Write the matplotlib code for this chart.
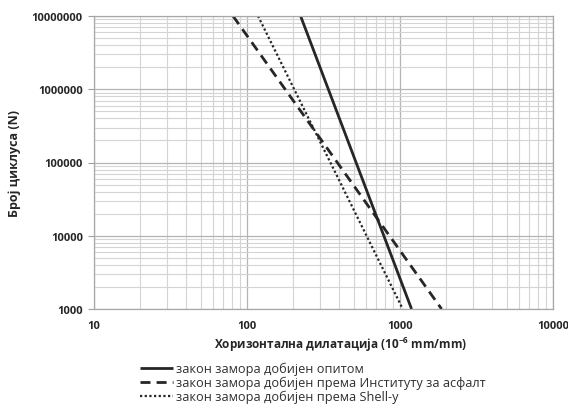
import matplotlib
matplotlib.use("Agg")
import matplotlib.pyplot as plt

plt.rcParams['font.family'] = ['Open Sans', 'DejaVu Sans']
plt.rcParams['mathtext.fontset'] = 'custom'
plt.rcParams['mathtext.rm'] = 'Open Sans'
plt.rcParams['mathtext.bf'] = 'Open Sans:bold'

# Fatigue laws: horizontal strain (10^-6 mm/mm) vs. number of cycles N
strain_test = [224, 1190]
cycles_test = [1e7, 1e3]

strain_ai = [81, 1870]
cycles_ai = [1e7, 1e3]

strain_shell = [118, 1042]
cycles_shell = [1e7, 1e3]

labels = [
    "закон замора добијен опитом",
    "закон замора добијен према Институту за асфалт",
    "закон замора добијен према Shell-у",
]

x_ticks = [10, 100, 1000, 10000]
y_ticks = [1000, 10000, 100000, 1000000, 10000000]

fig = plt.figure(figsize=(5.68, 4.06), dpi=100)
ax = fig.add_axes([94/568, 1-310/406, (553-94)/568, (310-17)/406])

ax.set_xscale('log')
ax.set_yscale('log')
ax.set_xlim(10, 10000)
ax.set_ylim(1000, 10000000)

ax.grid(True, which='major', color='#b4b4b4', linewidth=0.9)
ax.grid(True, which='minor', color='#d4d4d4', linewidth=0.8)
ax.set_axisbelow(True)

ink = '#262626'
l1, = ax.plot(strain_test, cycles_test, color=ink, linewidth=2.0, solid_capstyle='butt')
l2, = ax.plot(strain_ai, cycles_ai, color=ink, linewidth=2.0, dashes=(3.6, 2.2))
l3, = ax.plot(strain_shell, cycles_shell, color=ink, linewidth=1.6, linestyle=(0, (1, 1.1)))

ax.set_xticks(x_ticks)
ax.set_xticklabels([str(v) for v in x_ticks])
ax.set_yticks(y_ticks)
ax.set_yticklabels([str(v) for v in y_ticks])
ax.tick_params(which='minor', length=0)
ax.tick_params(which='major', length=4, color='#a0a0a0', labelsize=8, pad=4)
ax.tick_params(axis='x', length=0, pad=8)
for lab in ax.get_xticklabels() + ax.get_yticklabels():
    lab.set_fontweight('bold')
    lab.set_color(ink)

for s in ax.spines.values():
    s.set_color('#a8a8a8')
    s.set_linewidth(0.9)

fig.text(341/568, 1-345/406, r"Хоризонтална дилатација (10$^{\mathbf{-6}}$ mm/mm)", fontsize=8.5,
         fontweight='bold', color=ink, ha='center', va='center')
ax.set_ylabel("Број циклуса (N)", fontsize=9, fontweight='bold', color=ink, labelpad=8)

fig.legend([l1, l2, l3], labels, loc='upper left', bbox_to_anchor=(140/568, 1-363/406),
           frameon=False, fontsize=9.2, handlelength=2.6, handletextpad=0.25,
           labelspacing=0.05, borderaxespad=0, borderpad=0, labelcolor='#303030')

fig.savefig("out.png", dpi=100)
